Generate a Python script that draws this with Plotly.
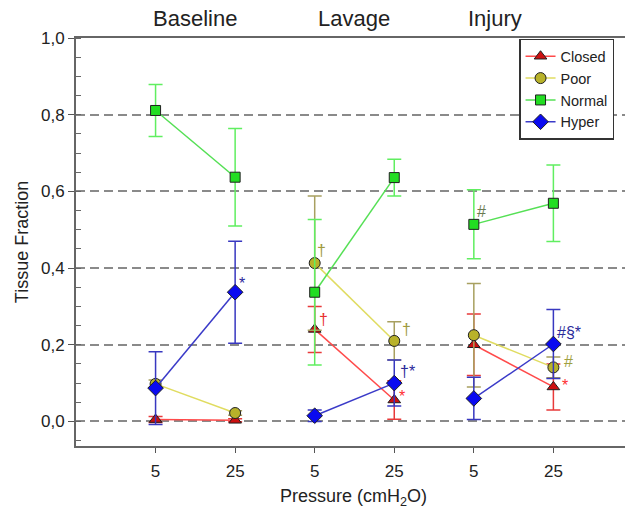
import plotly.graph_objects as go

# ---------------- data ----------------
groups = ["Baseline", "Lavage", "Injury"]
pressures = ["5", "25", "5", "25", "5", "25"]

closed = [0.005, 0.003, 0.240, 0.056, 0.200, 0.090]
closed_err = [0.008, 0.004, 0.060, 0.050, 0.080, 0.060]

poor = [0.098, 0.022, 0.413, 0.210, 0.225, 0.141]
poor_err = [0.010, 0.006, 0.175, 0.050, 0.135, 0.027]

normal = [0.811, 0.637, 0.337, 0.636, 0.514, 0.569]
normal_err = [0.068, 0.127, 0.190, 0.048, 0.090, 0.100]

hyper = [0.087, 0.337, 0.015, 0.100, 0.060, 0.202]
hyper_err = [0.095, 0.133, 0.015, 0.060, 0.055, 0.090]

# significance marks: (point index, value of the marked point, text, colour)
marks = [
    (1, hyper[1], "*", "#2a2a9a"),
    (2, poor[2], "†", "#a09a40"),
    (2, closed[2], "†", "#e83030"),
    (3, poor[3], "†", "#a09a40"),
    (3, hyper[3], "†*", "#2a2a9a"),
    (3, closed[3], "*", "#ff3030"),
    (4, normal[4], "#", "#6a7a50"),
    (5, hyper[5], "#§*", "#2a2a9a"),
    (5, poor[5], "#", "#a0a040"),
    (5, closed[5], "*", "#ff3030"),
]
mark_offsets = [  # (dx, dy) in data units relative to point
    (0.08, 0.024), (0.09, 0.034), (0.11, 0.027), (0.15, 0.029), (0.17, 0.030),
    (0.10, 0.009), (0.10, 0.033), (0.20, 0.029), (0.19, 0.015), (0.15, 0.005),
]

series = [
    ("Closed", closed, closed_err, "triangle-up", "#cc1010", "#ff4a4a", "#e83a3a", 11),
    ("Poor", poor, poor_err, "circle", "#b8b22a", "#e0dc60", "#a8a060", 11),
    ("Normal", normal, normal_err, "square", "#22dd22", "#55e055", "#60ee60", 10),
    ("Hyper", hyper, hyper_err, "diamond", "#0a0af0", "#3a3ac8", "#3838c0", 12),
]


def with_gaps(vals):
    out = []
    for i, v in enumerate(vals):
        out.append(v)
        if i % 2 == 1 and i < len(vals) - 1:
            out.append(None)
    return out


xpos = with_gaps(list(range(len(pressures))))

fig = go.Figure()
for name, vals, errs, sym, fill, line_c, err_c, size in series:
    fig.add_trace(go.Scatter(
        x=xpos, y=with_gaps(vals), name=name, mode="lines+markers",
        connectgaps=False,
        line=dict(color=line_c, width=1.5),
        marker=dict(symbol=sym, size=size, color=fill,
                    line=dict(color="#202020", width=1)),
        error_y=dict(type="data", array=with_gaps(errs), visible=True,
                     color=err_c, thickness=1.5, width=7),
    ))

annotations = []
for (xi, yv, txt, col), (dx, dy) in zip(marks, mark_offsets):
    annotations.append(dict(x=xi + dx, y=yv + dy, xref="x", yref="y", text=txt,
                            showarrow=False, font=dict(size=16, color=col),
                            xanchor="center", yanchor="middle"))

group_x = [0.5, 2.5, 4.27]
for gx, g in zip(group_x, groups):
    annotations.append(dict(x=gx, y=1.049, xref="x", yref="paper", text=g,
                            showarrow=False, font=dict(size=22, color="#222"),
                            xanchor="center", yanchor="middle"))

# axis titles
annotations.append(dict(x=0.505, y=-0.125, xref="paper", yref="paper",
                        text="Pressure (cmH<sub>2</sub>O)", showarrow=False,
                        font=dict(size=18, color="#222"),
                        xanchor="center", yanchor="middle"))
annotations.append(dict(x=-0.098, y=0.5, xref="paper", yref="paper",
                        text="Tissue Fraction", showarrow=False, textangle=-90,
                        font=dict(size=18, color="#222"),
                        xanchor="center", yanchor="middle"))

fig.update_layout(
    width=625, height=512,
    margin=dict(l=76, r=0, t=38, b=66, autoexpand=False),
    paper_bgcolor="white", plot_bgcolor="white",
    separators=",.",
    font=dict(family="Liberation Sans, Arial, sans-serif", color="#222", size=16),
    showlegend=True,
    legend=dict(x=0.807, y=0.998, xanchor="left", yanchor="top",
                bgcolor="white", bordercolor="#333", borderwidth=1.5,
                font=dict(size=14.5), tracegroupgap=0, itemwidth=30),
    annotations=annotations,
)

fig.update_xaxes(
    range=[-1, 5.9], tickmode="array", tickvals=list(range(len(pressures))),
    ticktext=pressures, ticks="outside", ticklen=5, tickcolor="#555",
    showline=True, linecolor="#666", linewidth=2, mirror=True,
    showgrid=False, zeroline=False, tickfont=dict(size=17), automargin=False,
    ticklabelstandoff=4,
)
fig.update_yaxes(
    range=[-0.064, 1.0], tickmode="array", tickvals=[0, 0.2, 0.4, 0.6, 0.8, 1.0],
    tickformat=".1f", ticks="outside", ticklen=6, tickcolor="#555",
    showline=True, linecolor="#666", linewidth=2,
    showgrid=True, gridcolor="#8a8a8a", gridwidth=1.5, griddash="9px,5px",
    zeroline=False, tickfont=dict(size=17), automargin=False,
    minor=dict(dtick=0.05, ticks="inside", ticklen=5, tickcolor="#666", showgrid=False),
)

fig.write_html("out.html", config={"displayModeBar": False},
               post_script="document.body.style.margin='0';document.body.style.overflow='hidden';")
